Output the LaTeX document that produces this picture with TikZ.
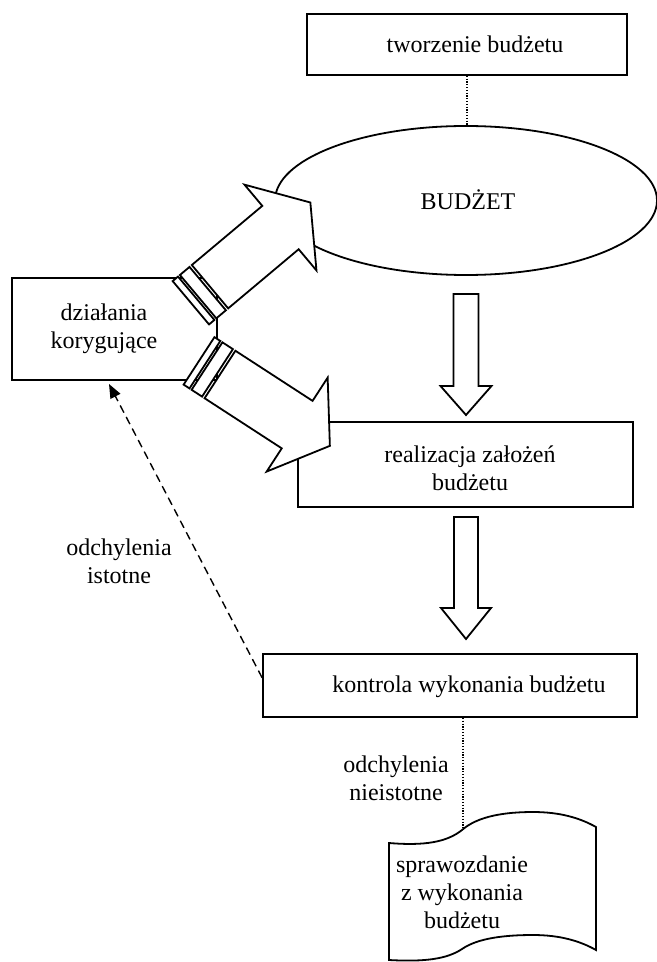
\documentclass[tikz,border=0pt]{standalone}
\usepackage{fontspec}
\setmainfont{Liberation Serif}
\usetikzlibrary{arrows.meta,calc,shapes.geometric}
\begin{document}
\begin{tikzpicture}[x=0.5pt,y=-0.5pt,
  box/.style={draw,line width=0.9pt,rectangle,inner sep=0pt},
  lbl/.style={font=\fontsize{12}{13.8}\selectfont,align=center,inner sep=0pt},
  blk/.style={draw,fill=white,line width=0.9pt,line join=miter},
  dots/.style={line width=0.6pt,dash pattern=on 0.6pt off 0.8pt},
]
\useasboundingbox (0,0) rectangle (657,962);

% boxes
\node[box,minimum width=160pt,minimum height=30.5pt] (tworzenie) at (467,44.5) {};
\node[lbl] (tworzenieT) at (475,44) {tworzenie budżetu};
\node[draw,line width=0.9pt,ellipse,inner sep=0pt,minimum width=191pt,minimum height=74.5pt] (budzet) at (466,200.5) {};
\node[lbl] (budzetT) at (468,200) {BUDŻET};
\node[box,minimum width=102.5pt,minimum height=51pt] (korekta) at (114.5,329) {};
\node[lbl] (korektaT) at (104,329) {działania\\korygujące};
\node[box,minimum width=167.5pt,minimum height=42.5pt] (realizacja) at (465.5,464.5) {};
\node[lbl] (realizacjaT) at (470,468) {realizacja założeń\\budżetu};
\node[box,minimum width=187pt,minimum height=31.5pt] (kontrola) at (450,685.5) {};
\node[lbl] (kontrolaT) at (469,687) {kontrola wykonania budżetu};

% document shape
\draw[blk] (389,843) .. controls (425,846) and (447,842) .. (462,830)
  .. controls (478,816) and (505,812) .. (533,812)
  .. controls (560,812) and (580,818) .. (596,827) -- (596,950)
  .. controls (580,941) and (560,935) .. (533,935)
  .. controls (505,935) and (478,938) .. (462,949)
  .. controls (447,959) and (425,962) .. (389,960) -- cycle;
\node[lbl,font=\fontsize{12}{14}\selectfont] (sprawozdanie) at (462,892) {sprawozdanie\\z wykonania\\budżetu};

% dotted connectors
\draw[dots] (tworzenie.south) -- (tworzenie.south |- budzet.north);
\coordinate (doctop) at (463,829);
\draw[dots] (kontrola.south -| doctop) -- (doctop);

% block arrows down
\draw[blk] (453.5,294) -- (478.5,294) -- (478.5,386) -- (491.5,386) -- (466,415) -- (440.5,386) -- (453.5,386) -- cycle;
\draw[blk] (454,517) -- (478,517) -- (478,608) -- (491,608) -- (466,639) -- (441,608) -- (454,608) -- cycle;

% striped arrow up-right
\begin{scope}[shift={(210,286.7)},rotate=40]
  \draw[blk] (-25,-28.3) rectangle (-18,28.3);
  \draw[blk] (-15.5,-28.3) rectangle (-3,28.3);
  \draw[blk] (0,-28.3) -- (92,-28.3) -- (92,-56) -- (131,0) -- (92,56) -- (92,28.3) -- (0,28.3) -- cycle;
\end{scope}
% striped arrow down-right
\begin{scope}[shift={(220,374.5)},rotate=-33]
  \draw[blk] (-25,-28.3) rectangle (-18,28.3);
  \draw[blk] (-15.5,-28.3) rectangle (-3,28.3);
  \draw[blk] (0,-28.3) -- (92,-28.3) -- (92,-56) -- (131,0) -- (92,56) -- (92,28.3) -- (0,28.3) -- cycle;
\end{scope}

% dashed feedback
\coordinate (dashend) at (109,384);
\draw[line width=0.7pt,dash pattern=on 4pt off 2.5pt,-{Triangle[length=7pt,width=5.5pt]}]
  ($(kontrola.north west)!0.38!(kontrola.south west)$) -- (dashend);

\node[lbl] (istotne) at (119,561) {odchylenia\\istotne};
\node[lbl] (nieistotne) at (396,778) {odchylenia\\nieistotne};
\end{tikzpicture}
\end{document}
